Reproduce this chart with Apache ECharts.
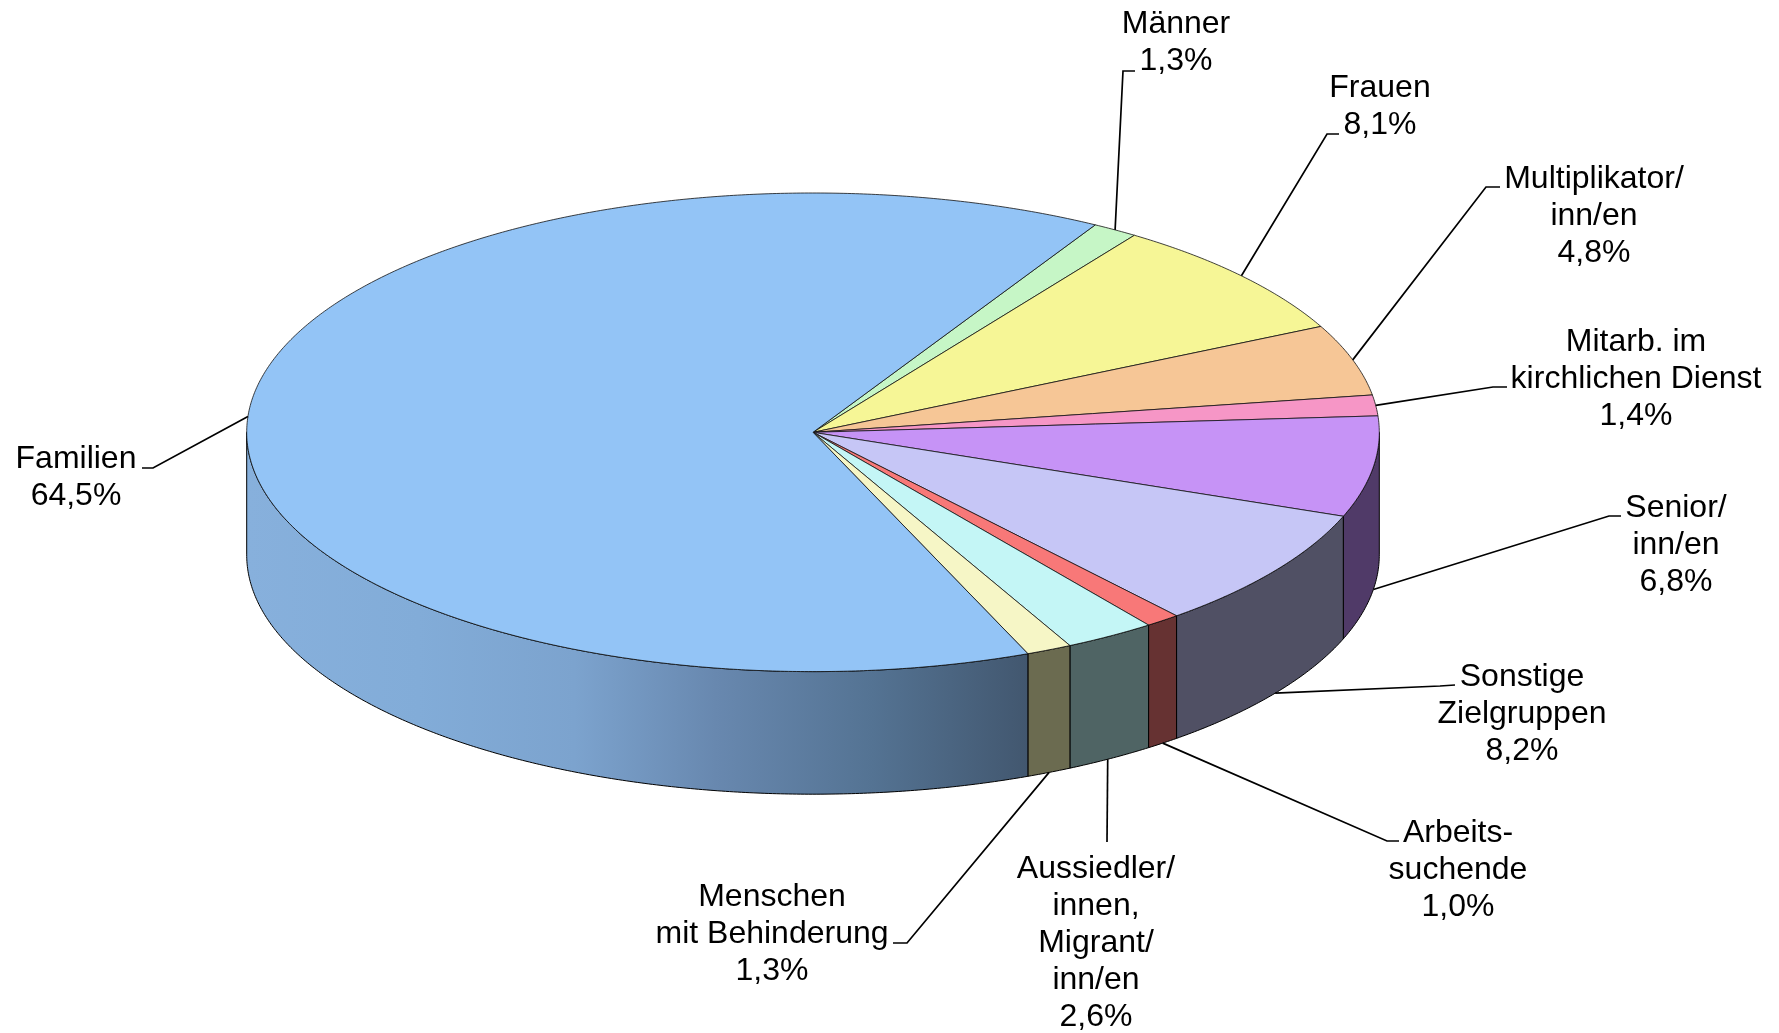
<!DOCTYPE html>
<html>
<head>
<meta charset="utf-8">
<style>html,body{margin:0;padding:0;background:#fff}#c{width:1779px;height:1033px}</style>
<script src="https://cdn.jsdelivr.net/npm/echarts@6/dist/echarts.min.js"></script>
</head>
<body>
<div id="c"></div>
<script>
// --- data ---
const categories = ['Männer','Frauen','Multiplikator/\ninn/en','Mitarb. im\nkirchlichen Dienst','Senior/\ninn/en','Sonstige\nZielgruppen','Arbeits-\nsuchende','Aussiedler/\ninnen,\nMigrant/\ninn/en','Menschen\nmit Behinderung','Familien'];
const shares = [1.3,8.1,4.8,1.4,6.8,8.2,1.0,2.6,1.3,64.5];
// --- styles ---
const topColors = ['#C6F6C6','#F6F696','#F6C696','#F696C6','#C693F6','#C6C6F6','#F87878','#C4F6F6','#F6F6C6','#93C4F6'];
const wallColors = ['#4F634F','#63634B','#63503C','#633C50','#503A68','#505064','#663232','#4F6464','#6B6B50',
  {type:'linear',x:0,y:0,x2:1,y2:0,colorStops:[
    {offset:0,color:'#87B0DC'},{offset:0.22,color:'#82ACD8'},{offset:0.42,color:'#7CA3CE'},
    {offset:0.6,color:'#6888AF'},{offset:0.8,color:'#547393'},{offset:1,color:'#42576F'}]}];
// --- layout ---
const pie = {cx:813, cy:432.3, rx:566.3, ry:239.3, depth:122.6, start:29.9};
const labelCenters = [[1176,43],[1380,106.5],[1594,216],[1636,379.5],[1676,545],[1522,714.5],[1458,870.5],[1096,943],[772,934],[76,478]];
const leaderBends = [
  [[1123,71],[1135,71]],[[1327,134],[1339,134]],[[1486,187],[1500,187]],[[1493,387],[1507,387]],[[1609,516],[1621,516]],
  [[1440,686],[1455,685]],[[1387,841],[1399,841]],[[1107,842]],[[907,943],[893,943]],[[153,468],[142,468]]];
const leaderAngleShift = [0,0,0,0,0,0,0,0.3,0,0];
const FONT = '32px "Liberation Sans", Arial, sans-serif';

const total = shares.reduce((a,b)=>a+b,0);
function pt(deg,dy){const r=deg*Math.PI/180;return [pie.cx+pie.rx*Math.sin(r),pie.cy-pie.ry*Math.cos(r)+(dy||0)];}
function arc(a,b,dy){const n=Math.max(2,Math.ceil(Math.abs(b-a)/0.4));const o=[];for(let i=0;i<=n;i++)o.push(pt(a+(b-a)*i/n,dy));return o;}

function renderSlice(params,api){
  const i=params.dataIndex;
  let before=0;for(let k=0;k<i;k++)before+=shares[k];
  const a0=pie.start+before/total*360, a1=a0+api.value(0)/total*360, mid=(a0+a1)/2+leaderAngleShift[i];
  const kids=[];
  // wall: only the part of the rim facing the viewer (90..270 deg from the top)
  const w0=Math.max(a0,90), w1=Math.min(a1,270);
  if(w1>w0){
    kids.push({type:'polygon',shape:{points:arc(w0,w1,0).concat(arc(w1,w0,pie.depth))},
      style:{fill:wallColors[i],stroke:'#000',lineWidth:1}});
  }
  // top face
  kids.push({type:'polygon',shape:{points:[[pie.cx,pie.cy]].concat(arc(a0,a1,0))},
    style:{fill:topColors[i],stroke:'#111',lineWidth:0.8,lineJoin:'round'}});
  // leader
  const m=((mid%360)+360)%360, front=m>90&&m<270;
  kids.push({type:'polyline',shape:{points:[pt(mid,front?pie.depth:0)].concat(leaderBends[i])},
    style:{fill:null,stroke:'#000',lineWidth:1.7}});
  // label
  kids.push({type:'text',x:labelCenters[i][0],y:labelCenters[i][1],
    style:{text:categories[i]+'\n'+api.value(0).toFixed(1).replace('.',',')+'%',
      font:FONT,fill:'#000',align:'center',verticalAlign:'middle',lineHeight:37}});
  return {type:'group',children:kids};
}

const chart=echarts.init(document.getElementById('c'),null,{renderer:'canvas'});
chart.setOption({
  animation:false,
  backgroundColor:'#fff',
  series:[{type:'custom',coordinateSystem:'none',renderItem:renderSlice,silent:true,
    data:shares.map((v,i)=>({name:categories[i],value:[v]}))}]
});
</script>
</body>
</html>
